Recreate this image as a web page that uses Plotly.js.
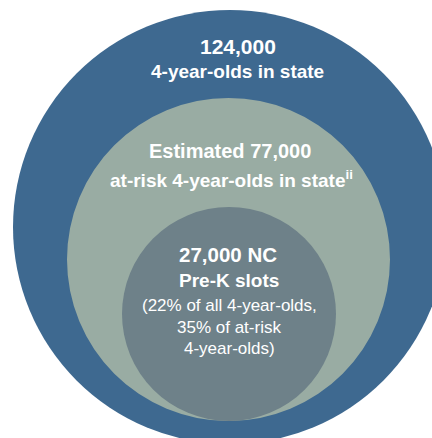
<!DOCTYPE html>
<html>
<head>
<meta charset="utf-8">
<script src="https://cdn.plot.ly/plotly-3.0.1.min.js"></script>
<style>html,body{margin:0;padding:0;background:#fff;}#chart{width:432px;height:438px;}</style>
</head>
<body>
<div id="chart"></div>
<script>
// Data
const groups = ["4-year-olds in state", "At-risk 4-year-olds in state", "NC Pre-K slots"];
const values = [124000, 77000, 27000];
const colors = ["#3E6990", "#99ACA3", "#6E8189"];
// Circle geometry (pixel-like diagram units)
const centerX = [230, 228.5, 229];
const centerY = [227, 259.5, 314];
const radius = [217, 161.5, 107];

// Text lines
const lineText = [
  "<b>124,000</b>",
  "<b>4-year-olds in state</b>",
  "<b>Estimated 77,000</b>",
  "<b>at-risk 4-year-olds in state<sup>ii</sup></b>",
  "<b>27,000 NC</b>",
  "<b>Pre-K slots</b>",
  "(22% of all 4-year-olds,",
  "35% of at-risk",
  "4-year-olds)"
];
const lineX = [237.5, 237, 230, 231, 228, 229, 229, 229, 229];
const lineY = [46.5, 71, 151, 178.5, 254, 280, 305, 327, 348];
const lineSize = [21, 19, 20, 19, 20.5, 19, 17, 17, 17];

const fmt = v => v.toLocaleString("en-US");

const shapes = values.map((v, i) => ({
  type: "circle", xref: "x", yref: "y", layer: "below",
  x0: centerX[i] - radius[i], x1: centerX[i] + radius[i],
  y0: centerY[i] - radius[i], y1: centerY[i] + radius[i],
  fillcolor: colors[i], line: {width: 0}
}));

const annotations = lineText.map((t, i) => ({
  x: lineX[i], y: lineY[i], xref: "x", yref: "y",
  text: t, showarrow: false, xanchor: "center", yanchor: "middle",
  font: {family: "Liberation Sans, Arial, sans-serif", size: lineSize[i], color: "#FFFFFF"}
}));

const trace = {
  x: centerX, y: centerY, type: "scatter", mode: "markers",
  marker: {opacity: 0, size: 1},
  text: groups.map((g, i) => g + ": " + fmt(values[i])),
  hoverinfo: "text", showlegend: false
};

Plotly.newPlot("chart", [trace], {
  width: 432, height: 438,
  margin: {l: 0, r: 0, t: 0, b: 0},
  paper_bgcolor: "#FFFFFF", plot_bgcolor: "#FFFFFF",
  xaxis: {range: [0, 432], visible: false, fixedrange: true},
  yaxis: {range: [438, 0], visible: false, fixedrange: true},
  shapes: shapes, annotations: annotations, showlegend: false
}, {displayModeBar: false, staticPlot: true});
</script>
</body>
</html>
